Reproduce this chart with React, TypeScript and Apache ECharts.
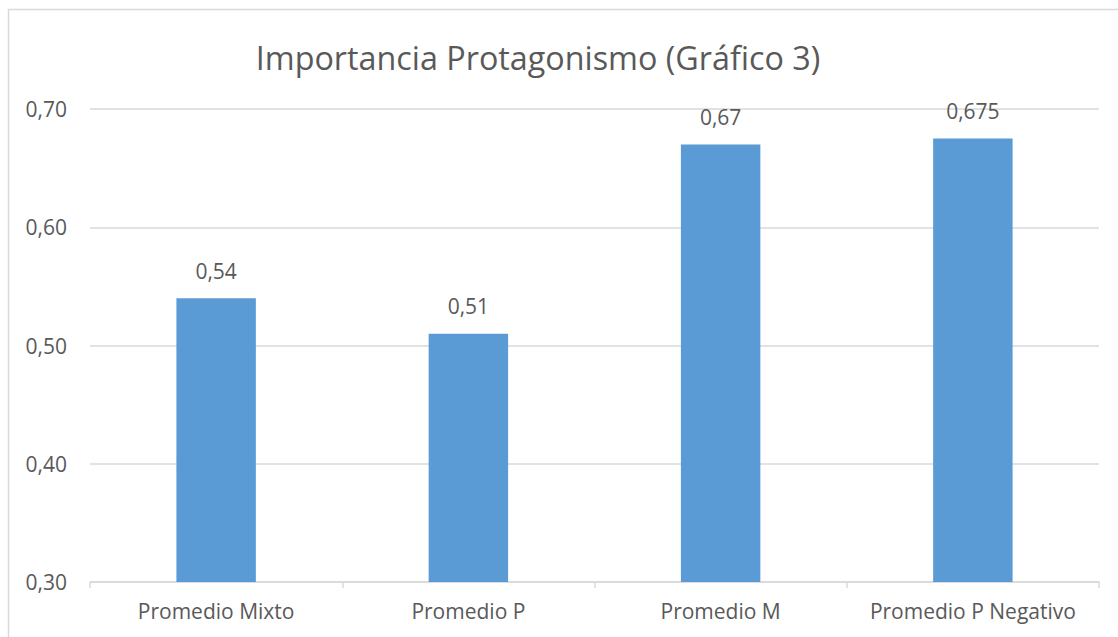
import React, { useEffect, useRef } from "react";
import * as echarts from "echarts";

const titleText = "Importancia Protagonismo (Gráfico 3)";
const categories = ["Promedio Mixto", "Promedio P", "Promedio M", "Promedio P Negativo"];
const values = [0.54, 0.51, 0.67, 0.675];
const valueLabels = ["0,54", "0,51", "0,67", "0,675"];
const yMin = 0.3;
const yMax = 0.7;
const yStep = 0.1;

const FONT = "'Open Sans', 'Noto Sans', sans-serif";
const TEXT = "#595959";

export default function App() {
  const ref = useRef<HTMLDivElement>(null);
  useEffect(() => {
    document.body.style.margin = "0";
    document.body.style.overflow = "hidden";
    const chart = echarts.init(ref.current!, null, { renderer: "svg" });
    chart.setOption({
      animation: false,
      backgroundColor: "#ffffff",
      graphic: [
        {
          type: "rect",
          shape: { x: 8.5, y: 9.5, width: 1200, height: 700 },
          style: { fill: "none", stroke: "#D9D9D9", lineWidth: 1.5 },
          silent: true,
        },
        {
          type: "text",
          x: 538,
          y: 57,
          silent: true,
          style: {
            text: titleText,
            textAlign: "center",
            textVerticalAlign: "middle",
            fontFamily: FONT,
            fontSize: 32.3,
            fill: TEXT,
          },
        },
      ],
      grid: { left: 90, right: 19, top: 109, bottom: 55, containLabel: false },
      xAxis: {
        type: "category",
        data: categories,
        axisLine: { lineStyle: { color: "#D9D9D9", width: 1.5 } },
        axisTick: { show: true, interval: 0, length: 6, lineStyle: { color: "#D9D9D9", width: 1.5 } },
        axisLabel: { interval: 0, hideOverlap: false, fontFamily: FONT, fontSize: 21, color: TEXT, margin: 18 },
      },
      yAxis: {
        type: "value",
        min: yMin,
        max: yMax,
        interval: yStep,
        axisLine: { show: false },
        axisTick: { show: false },
        splitLine: { lineStyle: { color: "#D9D9D9", width: 1.5 } },
        axisLabel: {
          fontFamily: FONT,
          fontSize: 21,
          color: TEXT,
          margin: 23,
          formatter: (v: number) => v.toFixed(2).replace(".", ","),
        },
      },
      series: [
        {
          type: "bar",
          data: values,
          barWidth: "31.5%",
          itemStyle: { color: "#5B9BD5" },
          label: {
            show: true,
            position: "top",
            distance: 17,
            fontFamily: FONT,
            fontSize: 21,
            color: TEXT,
            formatter: (p: any) => valueLabels[p.dataIndex],
          },
        },
      ],
    });
    return () => chart.dispose();
  }, []);
  return <div ref={ref} style={{ width: 1118, height: 637 }} />;
}
